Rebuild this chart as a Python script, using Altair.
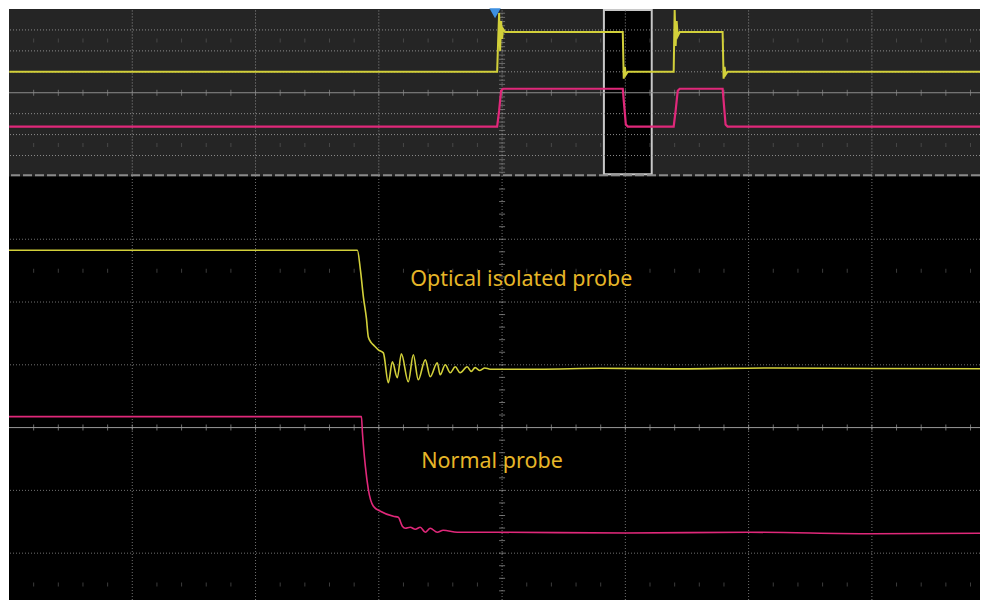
import altair as alt
import pandas as pd

# ---------------- data (screen divisions) ----------------
# Overview (top) panel traces: x in screen divisions, value in top-panel divisions
top_yel_t = [-3.998, -0.040, -0.032, -0.024, -0.016, -0.008, 0.000, 0.008, 0.024, 0.979, 0.987, 0.996, 1.004, 1.020,
             1.392, 1.400, 1.408, 1.416, 1.425, 1.441, 1.789, 1.797, 1.805, 1.813, 1.829, 3.942]
top_yel_v = [1.000, 1.000, 2.476, 3.810, 2.000, 3.429, 2.571, 3.048, 2.905, 2.905, 0.667, 1.238, 0.857, 1.000,
             1.000, 3.952, 2.238, 3.429, 2.714, 2.905, 2.905, 0.667, 1.238, 0.857, 1.000, 1.000]

top_mag_t = [-3.998, -0.040, -0.024, -0.008, 0.008, 0.979, 0.987, 1.004, 1.020, 1.392, 1.408, 1.425, 1.441,
             1.789, 1.797, 1.813, 1.829, 3.942]
top_mag_v = [-1.619, -1.619, -0.857, 0.095, 0.190, 0.190, -0.381, -1.524, -1.619, -1.619, -0.857, 0.095, 0.190,
             0.190, -0.381, -1.524, -1.619, -1.619]

# Zoomed (bottom) panel traces: value in bottom-panel divisions
bot_yel_t = [-4.0, -1.174, -1.149, -1.125, -1.101, -1.085, -1.060, -1.044, -1.004, -0.963, -0.923, -0.890, -0.850,
             -0.817, -0.761, -0.720, -0.680, -0.623, -0.583, -0.526, -0.502, -0.461, -0.421, -0.380, -0.340, -0.283,
             -0.250, -0.219, -0.180, -0.140, -0.097, 0.30, 0.80, 1.40, 2.20, 3.00, 3.942]
bot_yel_v = [2.825, 2.825, 2.508, 2.079, 1.746, 1.444, 1.349, 1.317, 1.238, 1.190, 0.714, 1.048, 0.794,
             1.175, 0.730, 1.159, 0.762, 1.079, 0.810, 1.032, 0.841, 1.000, 0.873, 0.968, 0.873, 0.968,
             0.895, 0.955, 0.910, 0.950, 0.930, 0.930, 0.945, 0.935, 0.950, 0.940, 0.937]

bot_mag_t = [-4.0, -1.141, -1.133, -1.109, -1.085, -1.044, -0.987, -0.882, -0.842, -0.809, -0.785, -0.745, -0.704,
             -0.664, -0.623, -0.583, -0.526, -0.478, -0.364, -0.040, 1.000, 2.000, 3.000, 3.942]
bot_mag_v = [0.175, 0.175, -0.079, -0.619, -0.984, -1.254, -1.333, -1.413, -1.429, -1.571, -1.603, -1.587, -1.619,
             -1.587, -1.667, -1.603, -1.667, -1.635, -1.667, -1.667, -1.680, -1.667, -1.690, -1.683]

# zoom window in overview (top-panel divisions)
win_x, win_x2 = [0.826], [1.214]
win_v, win_v2 = [-3.9], [3.95]

# trigger marker
trig_t, trig_v = [-0.057], [3.8]

labels = ["Optical isolated probe", "Normal probe"]
label_t = [-0.745, -0.656]
label_v = [2.254, -0.651]

grid_x = [-3, -2, -1, 0, 1, 2, 3]
top_grid_v = [-3, -2, -1, 1, 2, 3]
bot_grid_v = [-2, -1, 1, 2, 3]
minor_x = [round(-3.8 + 0.2 * k, 2) for k in range(39)]
minor_v_top = [round(-3.8 + 0.2 * k, 2) for k in range(39)]
minor_v_bot = [round(-2.6 + 0.2 * k, 2) for k in range(33)]
faint_rows = [-2.5, 2.5]

# ---------------- layout / style ----------------
W, H = 973, 593
X_MAX = 3.877
Y_MIN, Y_MAX = -2.746, 6.667
YEL = "#d2d03a"
MAG = "#e0287a"
GOLD = "#e6b628"
TOP_BG = "#252525"

# one shared vertical scale measured in bottom-panel divisions;
# the overview panel sits above it (centre 16/3, one of its divisions = 1/3)
TOP_C = 16 / 3
TOP_K = 1 / 3
TOP_EDGE = 4.0
xs = alt.Scale(domain=[-4, X_MAX], nice=False, zero=False)
ys = alt.Scale(domain=[Y_MIN, Y_MAX], nice=False, zero=False)


def X(f="x"):
    return alt.X(f"{f}:Q", scale=xs, axis=None)


def Y(f="u"):
    return alt.Y(f"{f}:Q", scale=ys, axis=None)


def place(chart, panel, field="v", out="u"):
    if panel == "top":
        return chart.transform_calculate(**{out: f"{TOP_C} + datum.{field} * {TOP_K}"})
    return chart.transform_calculate(**{out: f"datum.{field}"})


layers = []

# overview background
layers.append(alt.Chart(pd.DataFrame({"x": [-4], "x2": [X_MAX], "u": [TOP_EDGE], "u2": [Y_MAX]})).mark_rect(
    fill=TOP_BG).encode(x=X(), x2="x2:Q", y=Y(), y2="u2:Q"))

# zoom window (black, framed)
w = pd.DataFrame({"x": win_x, "x2": win_x2, "v": win_v, "v2": win_v2})
layers.append(place(place(alt.Chart(w), "top"), "top", "v2", "u2").mark_rect(
    fill="#000000", stroke="#c8c8c8", strokeWidth=2).encode(x=X(), x2="x2:Q", y=Y(), y2="u2:Q"))


def panel_grid(panel, grid_v, minor_v, grid_col, axis_col, span):
    out = []
    g = place(alt.Chart(pd.DataFrame({"v": grid_v})), panel)
    out.append(g.mark_rule(color=grid_col, strokeDash=[1, 2], strokeWidth=1).encode(y=Y()))
    vg = pd.DataFrame({"x": grid_x, "v": [span[0]] * len(grid_x), "v2": [span[1]] * len(grid_x)})
    vgc = place(place(alt.Chart(vg), panel), panel, "v2", "u2")
    out.append(vgc.mark_rule(color=grid_col, strokeDash=[1, 2], strokeWidth=1).encode(x=X(), y=Y(), y2="u2:Q"))
    c = place(alt.Chart(pd.DataFrame({"v": [0]})), panel)
    out.append(c.mark_rule(color=axis_col, strokeWidth=1).encode(y=Y()))
    tk = place(alt.Chart(pd.DataFrame({"x": minor_x, "v": [0] * len(minor_x)})), panel)
    out.append(tk.mark_tick(orient="vertical", size=6, thickness=1, color=axis_col).encode(x=X(), y=Y()))
    tv = place(alt.Chart(pd.DataFrame({"x": [0] * len(minor_v), "v": minor_v})), panel)
    out.append(tv.mark_tick(orient="horizontal", size=6, thickness=1, color=axis_col).encode(x=X(), y=Y()))
    fx = [a for a in minor_x if abs(a - round(a)) > 1e-6]
    rows = [{"x": a, "v": r} for r in faint_rows for a in fx]
    fr = place(alt.Chart(pd.DataFrame(rows)), panel)
    out.append(fr.mark_tick(orient="vertical", size=4, thickness=1, color="#555555").encode(x=X(), y=Y()))
    return out


layers += panel_grid("top", top_grid_v, minor_v_top, "#8c8c8c", "#8c8c8c", (-4, 4))
layers += panel_grid("bot", bot_grid_v, minor_v_bot, "#707070", "#9a9a9a", (Y_MIN, 4))

# dashed separator under the overview
layers.append(alt.Chart(pd.DataFrame({"u": [4.02]})).mark_rule(
    color="#8a8a8a", strokeDash=[9, 3], strokeWidth=2).encode(y=Y()))

# overview traces
layers.append(place(alt.Chart(pd.DataFrame({"x": top_yel_t, "v": top_yel_v})), "top").mark_line(
    color=YEL, strokeWidth=2, clip=True).encode(x=X(), y=Y()))
layers.append(place(alt.Chart(pd.DataFrame({"x": top_mag_t, "v": top_mag_v})), "top").mark_line(
    color=MAG, strokeWidth=2.2, clip=True).encode(x=X(), y=Y()))
layers.append(place(alt.Chart(pd.DataFrame({"x": trig_t, "v": trig_v})), "top").mark_point(
    shape="triangle-down", filled=True, color="#3d8fe0", size=130, opacity=1).encode(x=X(), y=Y()))

# zoomed traces
layers.append(place(alt.Chart(pd.DataFrame({"x": bot_yel_t, "v": bot_yel_v})), "bot").mark_line(
    color=YEL, strokeWidth=1.6, clip=True, interpolate="monotone").encode(x=X(), y=Y()))
layers.append(place(alt.Chart(pd.DataFrame({"x": bot_mag_t, "v": bot_mag_v})), "bot").mark_line(
    color=MAG, strokeWidth=1.6, clip=True, interpolate="monotone").encode(x=X(), y=Y()))
layers.append(place(alt.Chart(pd.DataFrame({"x": label_t, "v": label_v, "s": labels})), "bot").mark_text(
    align="left", baseline="alphabetic", fontSize=21.5, font="Noto Sans", color=GOLD).encode(
    x=X(), y=Y(), text="s:N"))

chart = alt.layer(*layers).properties(
    width=W, height=H, padding=0, background="white",
    autosize=alt.AutoSizeParams(type="fit", contains="padding"),
).configure_view(fill="#000000", strokeWidth=0)

chart.save("out.html", embed_options={"renderer": "svg", "actions": False})
